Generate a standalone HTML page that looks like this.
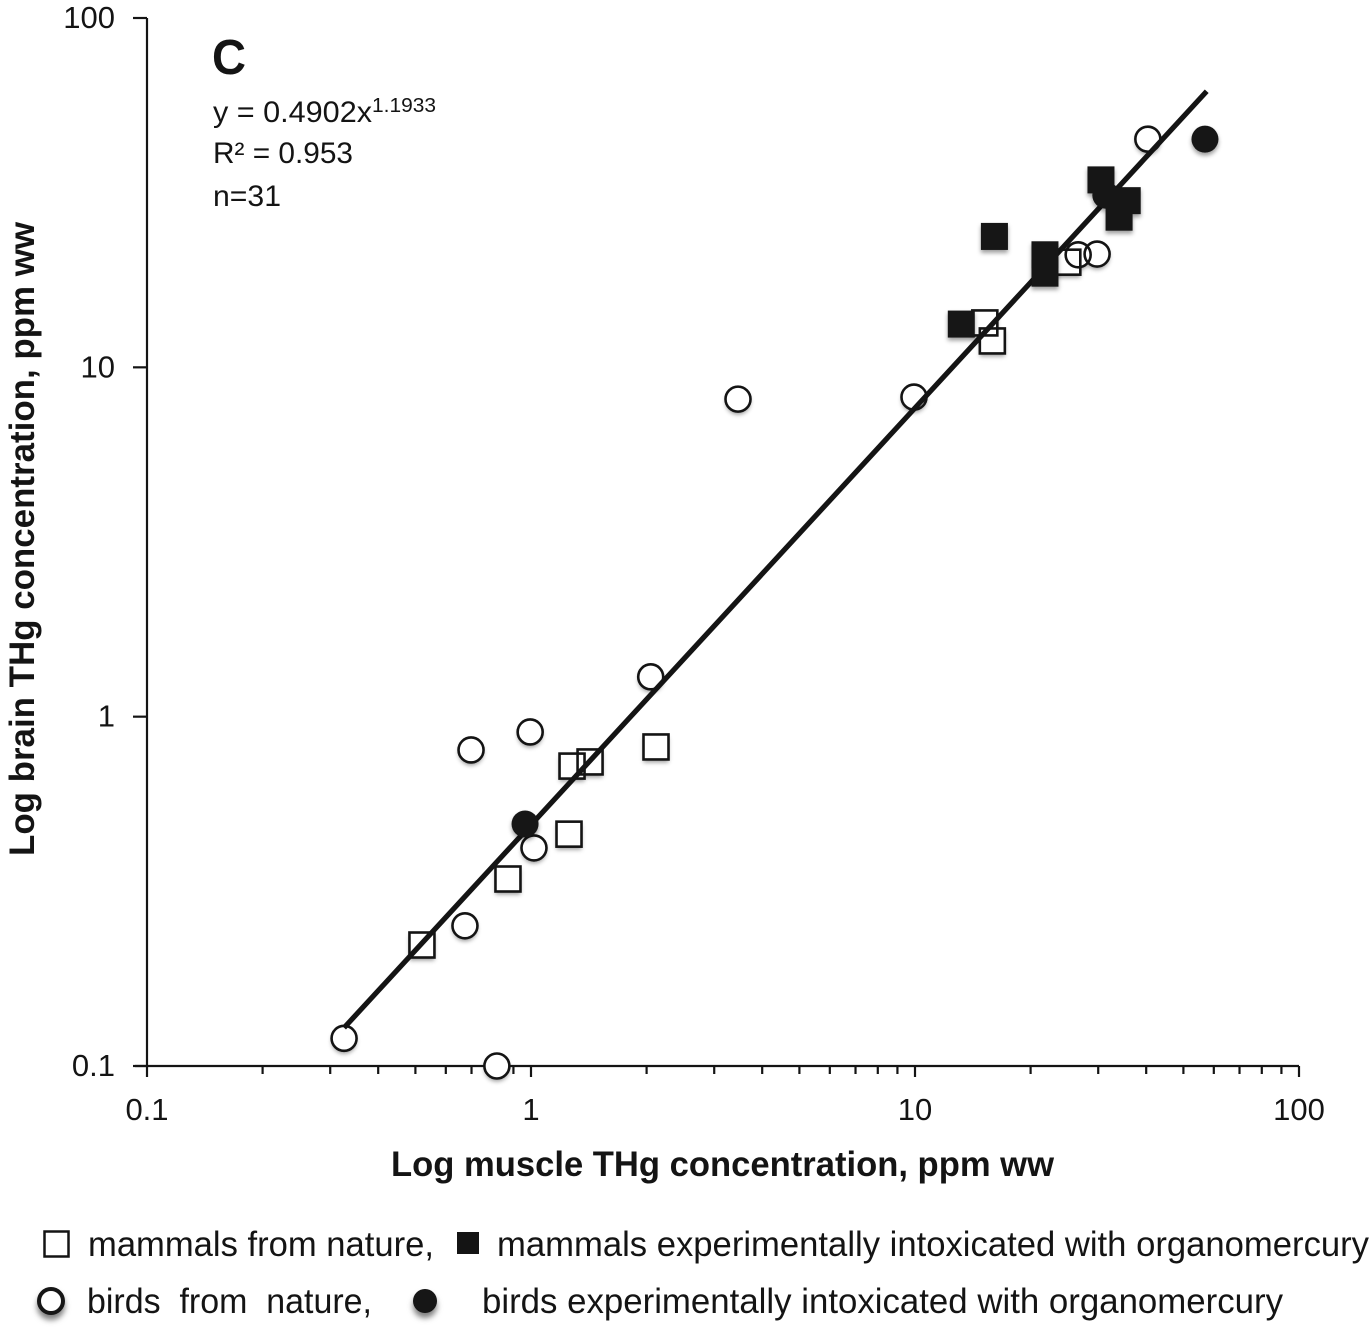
<!DOCTYPE html>
<html lang="en">
<head>
<meta charset="utf-8">
<title>Log brain vs muscle THg concentration</title>
<style>
html,body{margin:0;padding:0;background:#fff;}
svg{display:block;}
text{font-family:"Liberation Sans",sans-serif;fill:#141414;}
.b{font-weight:bold;}
</style>
</head>
<body>
<svg id="chart" xmlns="http://www.w3.org/2000/svg" width="1371" height="1342" viewBox="0 0 1371 1342">
  <defs>
    <filter id="sh" x="-40%" y="-40%" width="180%" height="200%">
      <feDropShadow dx="0" dy="3" stdDeviation="2.2" flood-color="#000" flood-opacity="0.38"/>
    </filter>
    <filter id="sh2" x="-60%" y="-60%" width="220%" height="240%">
      <feDropShadow dx="0" dy="5" stdDeviation="3" flood-color="#000" flood-opacity="0.5"/>
    </filter>
  </defs>
  <rect width="1371" height="1342" fill="#fff"/>
  <g id="axes"></g>
  <g id="backs" filter="url(#sh)"></g>
  <g id="outlines"></g>
  <g id="trend"></g>
  <g id="solids" filter="url(#sh)"></g>

  <text class="b" x="212" y="74" font-size="49" textLength="34" lengthAdjust="spacingAndGlyphs">C</text>
  <text x="213" y="122" font-size="30" textLength="159" lengthAdjust="spacingAndGlyphs">y = 0.4902x</text>
  <text x="372" y="112" font-size="20" textLength="64" lengthAdjust="spacingAndGlyphs">1.1933</text>
  <text x="213" y="163" font-size="30" textLength="140" lengthAdjust="spacingAndGlyphs">R² = 0.953</text>
  <text x="213" y="206" font-size="30" textLength="68" lengthAdjust="spacingAndGlyphs">n=31</text>

  <text class="b" x="391" y="1176" font-size="35" textLength="663" lengthAdjust="spacingAndGlyphs">Log muscle THg concentration, ppm ww</text>
  <text class="b" transform="translate(34 856) rotate(-90)" x="0" y="0" font-size="35" textLength="634" lengthAdjust="spacingAndGlyphs">Log brain THg concentration, ppm ww</text>

  <g>
    <rect x="44.5" y="1231.5" width="24" height="25" fill="#fff" stroke="#141414" stroke-width="2.5"/>
    <text x="88" y="1256" font-size="35" textLength="346" lengthAdjust="spacingAndGlyphs">mammals from nature,</text>
    <rect x="457" y="1232" width="22" height="22" fill="#141414"/>
    <text x="497" y="1256" font-size="35" textLength="872" lengthAdjust="spacingAndGlyphs">mammals experimentally intoxicated with organomercury</text>
    <circle cx="51" cy="1301" r="12" fill="#fff" stroke="#141414" stroke-width="4" filter="url(#sh2)"/>
    <text x="87" y="1313" font-size="35" textLength="285" lengthAdjust="spacingAndGlyphs" xml:space="preserve">birds  from  nature,</text>
    <circle cx="425" cy="1301" r="12" fill="#141414" filter="url(#sh2)"/>
    <text x="482" y="1313" font-size="35" textLength="801" lengthAdjust="spacingAndGlyphs">birds experimentally intoxicated with organomercury</text>
  </g>
</svg>
<script>
// Tick labels
const xTickValues = [0.1, 1, 10, 100];
const yTickValues = [0.1, 1, 10, 100];
const xMinorMultipliers = [2, 3, 4, 5, 6, 7, 8, 9];

// Series: muscle THg (x) and brain THg (y), ppm ww
const mammalsNatureX = [0.52, 0.871, 1.256, 1.279, 1.425, 2.116, 15.2, 15.9, 25.0];
const mammalsNatureY = [0.222, 0.343, 0.461, 0.722, 0.742, 0.819, 13.4, 11.9, 20.0];
const birdsNatureX = [0.326, 0.815, 0.673, 1.018, 0.698, 0.995, 2.05, 3.46, 9.94, 26.6, 29.8, 40.4];
const birdsNatureY = [0.120, 0.1, 0.252, 0.421, 0.803, 0.904, 1.30, 8.11, 8.22, 21.0, 21.1, 45.0];
const mammalsExperimentalX = [13.2, 16.1, 21.8, 21.8, 30.5, 35.7, 34.0];
const mammalsExperimentalY = [13.3, 23.7, 21.0, 18.6, 34.4, 30.0, 26.9];
const birdsExperimentalX = [0.965, 31.4, 56.9];
const birdsExperimentalY = [0.493, 31.1, 45.0];

// Power-law fit printed on the chart, and the x range it spans
const fitCoefficient = 0.4902;
const fitExponent = 1.1933;
const fitRangeX = [0.326, 57.5];

const NS = 'http://www.w3.org/2000/svg';
const plot = {left: 147, right: 1299, top: 18, bottom: 1066};
const xDomain = [0.1, 100];
const yDomain = [0.1, 100];

function xScale(v) {
  const t = (Math.log10(v) - Math.log10(xDomain[0])) / (Math.log10(xDomain[1]) - Math.log10(xDomain[0]));
  return plot.left + t * (plot.right - plot.left);
}
function yScale(v) {
  const t = (Math.log10(v) - Math.log10(yDomain[0])) / (Math.log10(yDomain[1]) - Math.log10(yDomain[0]));
  return plot.bottom - t * (plot.bottom - plot.top);
}
function make(tag, parentId, attrs) {
  const el = document.createElementNS(NS, tag);
  for (const k in attrs) el.setAttribute(k, attrs[k]);
  document.getElementById(parentId).appendChild(el);
  return el;
}
const INK = '#141414';
const axisStyle = {stroke: INK, 'stroke-width': 2.2};

// Axis lines
let axisEl = make('line', 'axes', Object.assign({x1: plot.left, x2: plot.left, y1: plot.top, y2: plot.bottom}, axisStyle));


axisEl = make('line', 'axes', Object.assign({x1: plot.left - 12, x2: plot.right, y1: plot.bottom, y2: plot.bottom}, axisStyle));



// Y ticks and labels
yTickValues.forEach(function (v) {
  const y = yScale(v);
  const tick = make('line', 'axes', Object.assign({x1: plot.left - 14, x2: plot.left, y1: y, y2: y}, axisStyle));
  
  
  const label = make('text', 'axes', {x: 115, y: y + 10, 'font-size': 31, 'text-anchor': 'end'});
  
  
  label.textContent = String(v);
});

// X ticks and labels
xTickValues.forEach(function (v, i) {
  const x = xScale(v);
  const tick = make('line', 'axes', Object.assign({x1: x, x2: x, y1: plot.bottom, y2: plot.bottom + 11}, axisStyle));
  
  
  const label = make('text', 'axes', {x: x, y: 1120, 'font-size': 31, 'text-anchor': 'middle'});
  
  
  label.textContent = String(v);
  if (i < xTickValues.length - 1) {
    xMinorMultipliers.forEach(function (m) {
      const mx = xScale(v * m);
      const minor = make('line', 'axes', Object.assign({x1: mx, x2: mx, y1: plot.bottom, y2: plot.bottom + 8}, axisStyle));
      
      
    });
  }
});

const S = 25;   // square side (centre of stroke)
const R = 12.5; // circle radius (centre of stroke)
const SW = 2.6;

// Hollow squares
mammalsNatureX.forEach(function (v, i) {
  const cx = xScale(v);
  const cy = yScale(mammalsNatureY[i]);
  const back = make('rect', 'backs', {x: cx - S / 2, y: cy - S / 2, width: S, height: S, fill: '#fff'});
  
  
  const pt = make('rect', 'outlines', {x: cx - S / 2, y: cy - S / 2, width: S, height: S, fill: 'none', stroke: INK, 'stroke-width': SW});
  
  
});

// Hollow circles
birdsNatureX.forEach(function (v, i) {
  const cx = xScale(v);
  const cy = yScale(birdsNatureY[i]);
  const back = make('circle', 'backs', {cx: cx, cy: cy, r: R, fill: '#fff'});
  
  
  const pt = make('circle', 'outlines', {cx: cx, cy: cy, r: R, fill: 'none', stroke: INK, 'stroke-width': SW});
  
  
});

// Trendline
const fitY = function (x) { return fitCoefficient * Math.pow(x, fitExponent); };
const trendLine = make('line', 'trend', {
  x1: xScale(fitRangeX[0]), y1: yScale(fitY(fitRangeX[0])),
  x2: xScale(fitRangeX[1]), y2: yScale(fitY(fitRangeX[1])),
  stroke: INK, 'stroke-width': 5.2
});



// Filled squares
mammalsExperimentalX.forEach(function (v, i) {
  const cx = xScale(v);
  const cy = yScale(mammalsExperimentalY[i]);
  const pt = make('rect', 'solids', {x: cx - 13.5, y: cy - 13.5, width: 27, height: 27, fill: INK});
  
  
});

// Filled circles
birdsExperimentalX.forEach(function (v, i) {
  const cx = xScale(v);
  const cy = yScale(birdsExperimentalY[i]);
  const pt = make('circle', 'solids', {cx: cx, cy: cy, r: 13.5, fill: INK});
  
  
});
</script>
</body>
</html>
